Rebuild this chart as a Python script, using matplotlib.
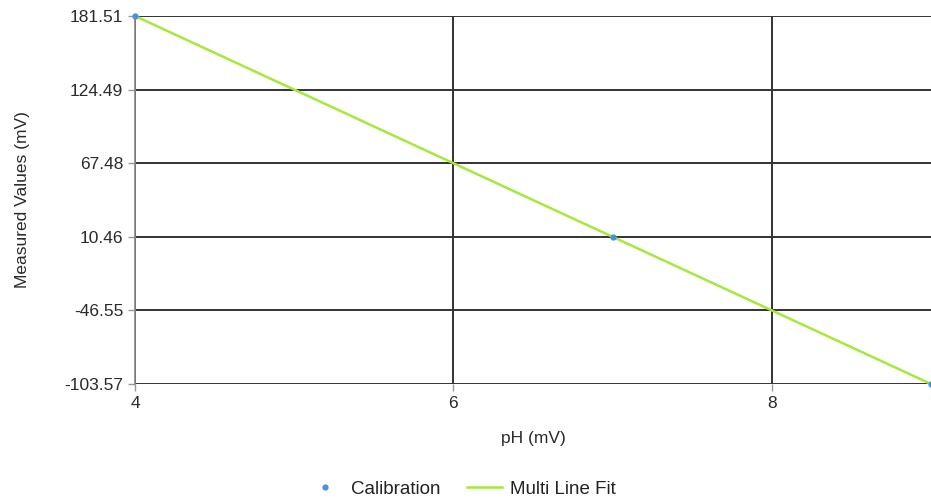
import matplotlib.pyplot as plt
import numpy as np

plt.rcParams['font.family'] = ['Liberation Sans', 'DejaVu Sans']

# calibration points (pH, mV)
cal_ph = [4, 7, 9]
cal_mv = [181.51, 10.46, -103.57]

# fitted line end points
fit_ph = [4, 9]
fit_mv = [181.51, -103.57]

y_ticks = [-103.57, -46.55, 10.46, 67.48, 124.49, 181.51]
x_ticks = [4, 6, 8]

fig = plt.figure(figsize=(9.31, 5.03), dpi=100)
ax = fig.add_axes([135 / 931, 1 - 384 / 503, (931 - 135) / 931, (384 - 16) / 503])

for y in y_ticks:
    ax.axhline(y, color='#333333', linewidth=1.4, zorder=1)
for x in x_ticks:
    ax.axvline(x, color='#333333', linewidth=1.4, zorder=1)

ax.plot(fit_ph, fit_mv, color='#a6e83c', linewidth=1.8, label='Multi Line Fit', zorder=3)
ax.plot(cal_ph, cal_mv, 'o', color='#4a8fe0', markersize=3.5, label='Calibration',
        zorder=4, clip_on=False)

ax.set_xlim(4, 9)
ax.set_ylim(-103.57, 181.51)
ax.set_xticks(x_ticks)
ax.set_yticks(y_ticks)
ax.set_yticklabels([f'{v:.2f}' for v in y_ticks])

for s in ['top', 'right', 'bottom']:
    ax.spines[s].set_visible(False)
ax.spines['left'].set_color('#888888')
ax.spines['left'].set_linewidth(1.2)

ax.tick_params(axis='both', colors='#999999', length=5, width=1, labelsize=12.5,
               labelcolor='#2a2a2a')
ax.set_xlabel('pH (mV)', fontsize=12.5, color='#2a2a2a')
ax.xaxis.set_label_coords(0.5, -(431 - 384) / 368, transform=ax.transAxes)
ax.set_ylabel('Measured Values (mV)', fontsize=12.5, color='#2a2a2a')
ax.yaxis.set_label_coords(-(135 - 30) / 796, 0.5, transform=ax.transAxes)

handles, labels = ax.get_legend_handles_labels()
order = [1, 0]
fig.legend([handles[i] for i in order], [labels[i] for i in order],
           loc='center', bbox_to_anchor=(461.5 / 931, 1 - 489 / 503), ncol=2,
           frameon=False, fontsize=13.5, handlelength=1.9, handletextpad=0.4,
           columnspacing=1.4, labelcolor='#222222')

fig.savefig('out.png', dpi=100)
